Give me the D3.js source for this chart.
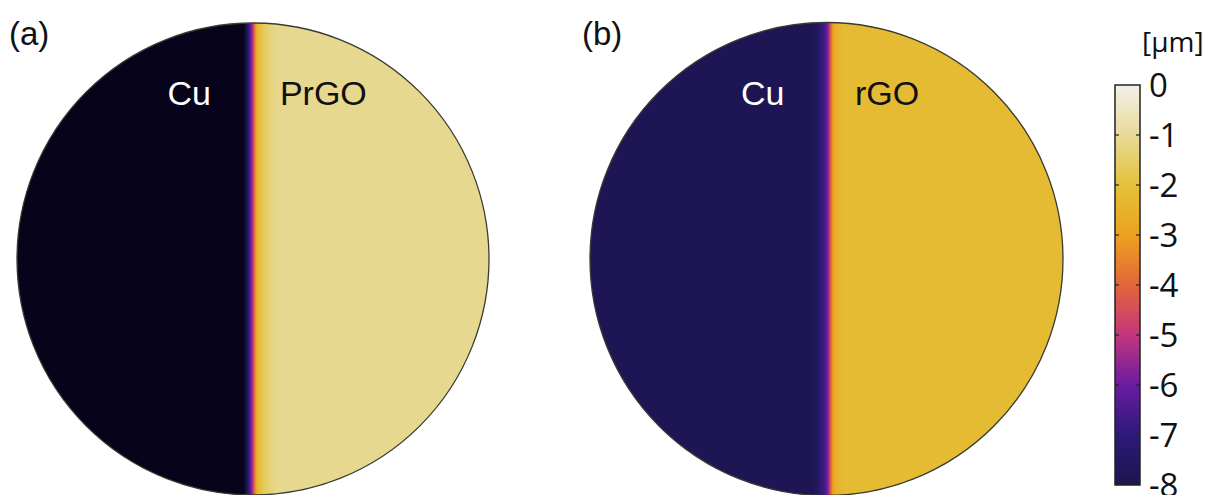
<!DOCTYPE html>
<html>
<head>
<meta charset="utf-8">
<script src="https://cdn.jsdelivr.net/npm/d3@7"></script>
<style>
  html, body { margin: 0; padding: 0; background: #fff; overflow: hidden; }
  svg { display: block; }
</style>
</head>
<body>
<svg id="chart" width="1215" height="495"></svg>
<script>
// Out-of-plane displacement across the Cu / graphene-oxide boundary (µm)
// Position is normalised to the disk radius (-1 = left rim, +1 = right rim).
const panelLabels = ["(a)", "(b)"];
const leftMaterials = ["Cu", "Cu"];
const rightMaterials = ["PrGO", "rGO"];

const profilePosA = [-1, -0.040, -0.030, -0.020, -0.010, 0.000, 0.008, 0.016, 0.028, 0.045, 0.062, 0.080, 0.110, 1];
const profileValA = [-9, -9, -8.3, -7.2, -6.2, -5.0, -3.6, -2.6, -2.0, -1.7, -1.45, -1.25, -1.1, -1.1];

const profilePosB = [-1, -0.062, -0.036, -0.015, 0.002, 0.011, 0.019, 0.027, 0.044, 0.078, 1];
const profileValB = [-7.9, -7.9, -7.5, -6.8, -6.2, -5.2, -4.0, -3.0, -2.5, -2.2, -2.2];

// Colour map (value -> colour)
const cmapValues = [-9, -8, -7, -6, -5, -4, -3, -2, -1, 0];
const cmapColors = ["#06031a", "#1d1550", "#2c1a78", "#6a1ca0", "#c4367c", "#e2663a", "#eca21e", "#e4c13a", "#e7da98", "#f3f1ea"];

const colorbarTicks = [0, -1, -2, -3, -4, -5, -6, -7, -8];
const colorbarUnit = "[µm]";

const svg = d3.select("#chart");
const defs = svg.append("defs");

const color = d3.scaleLinear().domain(cmapValues).range(cmapColors)
  .interpolate(d3.interpolateRgb).clamp(true);

const disks = [
  { cx: 253, cy: 259, r: 236, pos: profilePosA, val: profileValA },
  { cx: 826.5, cy: 259, r: 236.5, pos: profilePosB, val: profileValB }
];

const sans = "Liberation Sans, Arial, sans-serif";

disks.forEach((d, i) => {
  const x = d3.scaleLinear().domain([-1, 1]).range([d.cx - d.r, d.cx + d.r]);
  const gid = "disk-grad-" + i;
  const grad = defs.append("linearGradient")
    .attr("id", gid)
    .attr("gradientUnits", "userSpaceOnUse")
    .attr("x1", x(-1)).attr("x2", x(1))
    .attr("y1", 0).attr("y2", 0);
  grad.selectAll("stop")
    .data(d.pos.map((p, k) => ({ p, v: d.val[k] })))
    .join("stop")
    .attr("offset", s => (s.p + 1) / 2)
    .attr("stop-color", s => color(s.v));

  svg.append("circle")
    .attr("cx", d.cx).attr("cy", d.cy).attr("r", d.r)
    .attr("fill", `url(#${gid})`)
    .attr("stroke", "#3a3a32")
    .attr("stroke-width", 1.3);

  // Panel letter
  svg.append("text")
    .attr("x", d.cx - d.r - 8)
    .attr("y", 45)
    .attr("font-family", sans)
    .attr("font-size", 33)
    .attr("fill", "#111")
    .text(panelLabels[i]);

  // Material labels either side of the boundary
  svg.append("text")
    .attr("x", x(-0.27))
    .attr("y", 105)
    .attr("text-anchor", "middle")
    .attr("font-family", sans)
    .attr("font-size", 34)
    .attr("fill", "#ffffff")
    .text(leftMaterials[i]);

  svg.append("text")
    .attr("x", i === 0 ? x(0.114) : x(0.12))
    .attr("y", 105)
    .attr("font-family", sans)
    .attr("font-size", 34)
    .attr("fill", "#111")
    .text(rightMaterials[i]);
});

// Colour bar
const cb = { x: 1115, w: 25, top: 85, bottom: 485 };
const yScale = d3.scaleLinear().domain([0, -8]).range([cb.top, cb.bottom]);

const cbGrad = defs.append("linearGradient")
  .attr("id", "cbar-grad")
  .attr("gradientUnits", "userSpaceOnUse")
  .attr("x1", 0).attr("x2", 0)
  .attr("y1", yScale(0)).attr("y2", yScale(-8));
cbGrad.selectAll("stop")
  .data(cmapValues.filter(v => v >= -8).slice().reverse())
  .join("stop")
  .attr("offset", v => (yScale(v) - yScale(0)) / (yScale(-8) - yScale(0)))
  .attr("stop-color", v => color(v));

svg.append("rect")
  .attr("x", cb.x).attr("y", cb.top)
  .attr("width", cb.w).attr("height", cb.bottom - cb.top)
  .attr("fill", "url(#cbar-grad)")
  .attr("stroke", "#222")
  .attr("stroke-width", 1.5);

const innerTicks = colorbarTicks.filter(t => t !== 0 && t !== -8);
const tickG = svg.append("g");
tickG.selectAll("line.l")
  .data(innerTicks)
  .join("line")
  .attr("class", "l")
  .attr("x1", cb.x).attr("x2", cb.x + 4)
  .attr("y1", t => yScale(t)).attr("y2", t => yScale(t))
  .attr("stroke", "#222").attr("stroke-width", 1.2);
tickG.selectAll("line.r")
  .data(innerTicks)
  .join("line")
  .attr("class", "r")
  .attr("x1", cb.x + cb.w - 4).attr("x2", cb.x + cb.w)
  .attr("y1", t => yScale(t)).attr("y2", t => yScale(t))
  .attr("stroke", "#222").attr("stroke-width", 1.2);

svg.append("g").selectAll("text")
  .data(colorbarTicks)
  .join("text")
  .attr("x", 1149)
  .attr("y", t => yScale(t))
  .attr("dy", "0.36em")
  .attr("font-family", "Open Sans, sans-serif")
  .attr("font-size", 33)
  .attr("fill", "#111")
  .text(t => t === 0 ? "0" : "-" + Math.abs(t));

svg.append("text")
  .attr("x", 1142)
  .attr("y", 52)
  .attr("font-family", "Open Sans, sans-serif")
  .attr("font-size", 28)
  .attr("fill", "#111")
  .text(colorbarUnit);
</script>
</body>
</html>
